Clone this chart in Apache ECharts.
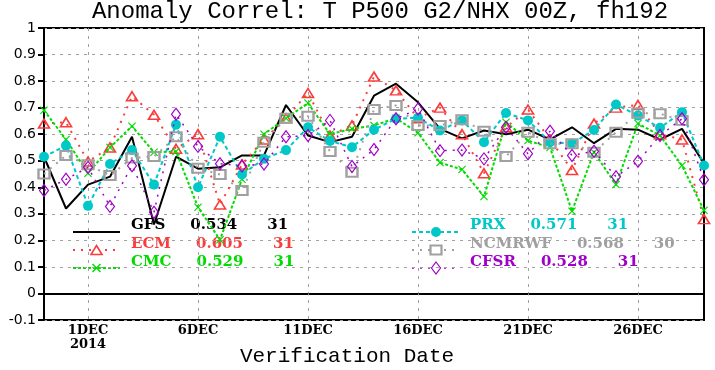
<!DOCTYPE html>
<html>
<head>
<meta charset="utf-8">
<script src="https://cdn.jsdelivr.net/npm/echarts@6/dist/echarts.min.js"></script>
<style>
  html, body { margin: 0; padding: 0; background: #fff; }
  #chart { width: 715px; height: 370px; }
</style>
</head>
<body>
<div id="chart"></div>
<script>
// ---------------- data ----------------
const titleText = 'Anomaly Correl: T P500 G2/NHX 00Z, fh192';
const xAxisTitle = 'Verification Date';
const yearLabel = '2014';
const dates = ['29NOV','30NOV','1DEC','2DEC','3DEC','4DEC','5DEC','6DEC','7DEC','8DEC','9DEC','10DEC',
  '11DEC','12DEC','13DEC','14DEC','15DEC','16DEC','17DEC','18DEC','19DEC','20DEC','21DEC','22DEC',
  '23DEC','24DEC','25DEC','26DEC','27DEC','28DEC','29DEC'];
const gfs = [0.515, 0.32, 0.41, 0.44, 0.59, 0.26, 0.515, 0.47, 0.475, 0.52, 0.52, 0.71, 0.595, 0.57, 0.59,
  0.745, 0.79, 0.72, 0.62, 0.584, 0.614, 0.60, 0.617, 0.58, 0.626, 0.566, 0.62, 0.617, 0.58, 0.62, 0.49];
const ecm = [0.64, 0.645, 0.497, 0.55, 0.743, 0.673, 0.545, 0.60, 0.335, 0.486, 0.58, 0.66, 0.755, 0.595, 0.633,
  0.817, 0.765, 0.66, 0.70, 0.60, 0.453, 0.626, 0.693, 0.58, 0.465, 0.64, 0.70, 0.71, 0.60, 0.58, 0.28];
const cmc = [0.69, 0.58, 0.453, 0.55, 0.63, 0.532, 0.535, 0.325, 0.202, 0.43, 0.60, 0.66, 0.717, 0.60, 0.62,
  0.633, 0.66, 0.605, 0.493, 0.467, 0.365, 0.645, 0.576, 0.55, 0.31, 0.532, 0.41, 0.64, 0.595, 0.482, 0.313];
const prx = [0.515, 0.557, 0.33, 0.488, 0.54, 0.41, 0.636, 0.40, 0.59, 0.448, 0.507, 0.54, 0.626, 0.574, 0.551,
  0.617, 0.658, 0.662, 0.614, 0.652, 0.57, 0.68, 0.652, 0.57, 0.565, 0.616, 0.712, 0.67, 0.624, 0.683, 0.482];
const ncmrwf = [0.45, 0.52, 0.485, 0.444, 0.51, 0.516, 0.59, 0.472, 0.448, 0.388, 0.57, 0.66, 0.668, 0.535, 0.457,
  0.693, 0.708, 0.633, 0.633, 0.654, 0.611, 0.516, 0.607, 0.564, 0.564, 0.532, 0.607, 0.68, 0.677, 0.652, null];
const cfsr = [0.388, 0.43, 0.475, 0.328, 0.481, 0.306, 0.675, 0.554, 0.489, 0.48, 0.488, 0.59, 0.595, 0.652, 0.478,
  0.542, 0.658, 0.695, 0.538, 0.54, 0.507, 0.626, 0.526, 0.611, 0.52, 0.536, 0.44, 0.498, 0.595, 0.658, 0.428];
const seriesNames = ['GFS', 'ECM', 'CMC', 'PRX', 'NCMRWF', 'CFSR'];
const meanScores = ['0.534', '0.605', '0.529', '0.571', '0.568', '0.528'];
const caseCounts = ['31', '31', '31', '31', '30', '31'];
const yTicks = { min: -0.1, max: 1, step: 0.1 };

// ---------------- styles ----------------
const X_PATH = 'path://M0,1L1,0L5,4L9,0L10,1L6,5L10,9L9,10L5,6L1,10L0,9L4,5Z';
const styles = [
  { color: '#000000', dash: 'solid', width: 2, symbol: 'none' },
  { color: '#fa3c3c', dash: [2, 6], width: 2, symbol: 'triangle', size: [11, 9], hollow: true, bw: 1.6 },
  { color: '#00dc00', dash: [3, 2], width: 2, symbol: X_PATH, size: 8 },
  { color: '#00c8c8', dash: [4, 3], width: 2, symbol: 'circle', size: 10 },
  { color: '#a0a0a0', dash: [2, 6], width: 2, symbol: 'rect', size: [11, 9], hollow: true, bw: 2.2 },
  { color: '#a000c8', dash: [2, 6], width: 1.5, symbol: 'diamond', size: [9, 12], hollow: true, bw: 1.2 }
];
const dataList = [gfs, ecm, cmc, prx, ncmrwf, cfsr];

const isMajor = (i) => (i - 2) % 5 === 0 && i >= 2;

const chart = echarts.init(document.getElementById('chart'), null, { renderer: 'canvas' });

const series = dataList.map((d, k) => {
  const s = styles[k];
  return {
    name: seriesNames[k],
    type: 'line',
    data: d,
    symbol: s.symbol,
    symbolSize: s.size || 0,
    showAllSymbol: true,
    connectNulls: false,
    z: 3 + k,
    lineStyle: { color: s.color, width: s.width, type: s.dash },
    itemStyle: s.hollow
      ? { color: 'rgba(255,255,255,0)', borderColor: s.color, borderWidth: s.bw }
      : { color: s.color, borderWidth: 0 },
    emphasis: { disabled: true },
    silent: true
  };
});

// ---------------- legend (drawn as graphic) ----------------
const mctx = document.createElement('canvas').getContext('2d');
const legendFont = 'bold 15px "DejaVu Serif"';
mctx.font = legendFont;
const graphics = [];
const cols = [
  { lx1: 73, lx2: 120, tx: 131 },
  { lx1: 412, lx2: 460, tx: 470 }
];
const rowLineY = [232, 250, 268];
const rowTextY = [233, 251.5, 270];

function markerGraphic(k, cx, cy) {
  const s = styles[k];
  if (s.symbol === 'triangle') {
    return { type: 'polygon', shape: { points: [[cx, cy - 4.5], [cx + 5.5, cy + 4.5], [cx - 5.5, cy + 4.5]] },
      style: { fill: '#fff', stroke: s.color, lineWidth: s.bw } };
  }
  if (s.symbol === 'circle') {
    return { type: 'circle', shape: { cx: cx, cy: cy, r: 5 }, style: { fill: s.color } };
  }
  if (s.symbol === 'rect') {
    return { type: 'rect', shape: { x: cx - 5.5, y: cy - 4.5, width: 11, height: 9 },
      style: { fill: '#fff', stroke: s.color, lineWidth: s.bw } };
  }
  if (s.symbol === 'diamond') {
    return { type: 'polygon', shape: { points: [[cx, cy - 6], [cx + 4.5, cy], [cx, cy + 6], [cx - 4.5, cy]] },
      style: { fill: '#fff', stroke: s.color, lineWidth: s.bw } };
  }
  if (s.symbol === X_PATH) {
    return { type: 'group', children: [
      { type: 'line', shape: { x1: cx - 4, y1: cy - 4, x2: cx + 4, y2: cy + 4 }, style: { stroke: s.color, lineWidth: 1.5 } },
      { type: 'line', shape: { x1: cx - 4, y1: cy + 4, x2: cx + 4, y2: cy - 4 }, style: { stroke: s.color, lineWidth: 1.5 } }
    ] };
  }
  return null;
}

for (let k = 0; k < seriesNames.length; k++) {
  const col = cols[Math.floor(k / 3)];
  const row = k % 3;
  const s = styles[k];
  const ly = rowLineY[row];
  graphics.push({
    type: 'line', shape: { x1: col.lx1, y1: ly, x2: col.lx2, y2: ly },
    style: { stroke: s.color, lineWidth: s.width, lineDash: s.dash === 'solid' ? null : s.dash }
  });
  const m = markerGraphic(k, (col.lx1 + col.lx2) / 2, ly);
  if (m) graphics.push(m);
  const ty = rowTextY[row];
  const nameW = mctx.measureText(seriesNames[k]).width;
  const valX = col.tx + nameW + 25;
  const valW = mctx.measureText(meanScores[k]).width;
  const cntX = valX + valW + 30;
  [[seriesNames[k], col.tx], [meanScores[k], valX], [caseCounts[k], cntX]].forEach(([t, x]) => {
    graphics.push({ type: 'text', x: x, y: ty,
      style: { text: t, font: legendFont, fill: s.color, textAlign: 'left', textVerticalAlign: 'bottom' } });
  });
}

// title + x axis title
graphics.push({ type: 'text', x: 380, y: 12,
  style: { text: titleText, font: '24px "Liberation Mono"', fill: '#000', textAlign: 'center', textVerticalAlign: 'middle' } });
graphics.push({ type: 'text', x: 347, y: 356,
  style: { text: xAxisTitle, font: '21px "Liberation Mono"', fill: '#000', textAlign: 'center', textVerticalAlign: 'middle' } });

const option = {
  animation: false,
  backgroundColor: '#fff',
  grid: { left: 44, right: 11, top: 28, bottom: 50, show: true, borderColor: '#000', borderWidth: 2, backgroundColor: 'transparent' },
  xAxis: {
    type: 'category',
    data: dates,
    boundaryGap: false,
    axisLine: { show: true, lineStyle: { color: '#000', width: 2 } },
    axisTick: { show: true, interval: (i) => isMajor(i), length: 4, lineStyle: { color: '#999', type: [2, 2] } },
    axisLabel: {
      interval: (i) => isMajor(i),
      formatter: (v) => v === '1DEC' ? v + '\n' + yearLabel : v,
      fontFamily: 'DejaVu Serif', fontWeight: 'bold', fontSize: 13, color: '#000', margin: 4, lineHeight: 14
    },
    splitLine: { show: true, interval: (i) => isMajor(i), lineStyle: { color: '#a0a0a0', type: [3, 5], width: 1 } }
  },
  yAxis: {
    type: 'value',
    min: yTicks.min, max: yTicks.max, interval: yTicks.step,
    axisLine: { show: true, lineStyle: { color: '#000', width: 2 } },
    axisTick: { show: true, length: 6, lineStyle: { color: '#000', width: 2 } },
    axisLabel: {
      formatter: (v) => String(+v.toFixed(1)),
      fontFamily: 'DejaVu Sans', fontSize: 14, color: '#000', margin: 8
    },
    splitLine: { show: true, lineStyle: { color: '#a0a0a0', type: [3, 5], width: 1 } }
  },
  series: series,
  graphic: graphics
};
chart.setOption(option);
</script>
</body>
</html>
